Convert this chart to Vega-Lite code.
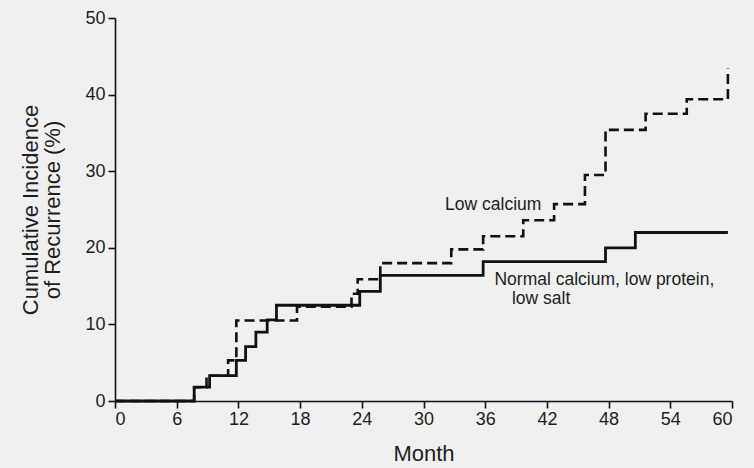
{
  "$schema": "https://vega.github.io/schema/vega-lite/v6.json",
  "width": 617,
  "height": 383,
  "autosize": {"type": "none"},
  "padding": {"left": 115, "top": 18, "right": 22, "bottom": 67},
  "background": "#f0f0f0",
  "config": {
    "view": {"stroke": null},
    "font": "Liberation Sans",
    "axis": {
      "domainColor": "#111111",
      "domainWidth": 1.6,
      "tickColor": "#111111",
      "tickWidth": 1.6,
      "tickSize": 7,
      "grid": false,
      "labelFont": "Liberation Sans",
      "labelFontSize": 18,
      "labelColor": "#1e1e1e",
      "titleFont": "Liberation Sans",
      "titleFontSize": 22,
      "titleFontWeight": "normal",
      "titleColor": "#1e1e1e"
    }
  },
  "datasets": {
    "curves": [
      {"month": 0, "pct": 0, "group": "normal"},
      {"month": 7.7, "pct": 1.8, "group": "normal"},
      {"month": 9.2, "pct": 3.3, "group": "normal"},
      {"month": 11.8, "pct": 5.3, "group": "normal"},
      {"month": 12.7, "pct": 7.1, "group": "normal"},
      {"month": 13.7, "pct": 9.0, "group": "normal"},
      {"month": 14.8, "pct": 10.6, "group": "normal"},
      {"month": 15.7, "pct": 12.5, "group": "normal"},
      {"month": 23.8, "pct": 14.3, "group": "normal"},
      {"month": 25.8, "pct": 16.4, "group": "normal"},
      {"month": 35.8, "pct": 18.2, "group": "normal"},
      {"month": 47.7, "pct": 20.0, "group": "normal"},
      {"month": 50.6, "pct": 22.0, "group": "normal"},
      {"month": 59.6, "pct": 22.0, "group": "normal"},
      {"month": 0, "pct": 0, "group": "low"},
      {"month": 7.7, "pct": 1.8, "group": "low"},
      {"month": 8.9, "pct": 3.3, "group": "low"},
      {"month": 11.0, "pct": 5.3, "group": "low"},
      {"month": 11.8, "pct": 10.5, "group": "low"},
      {"month": 17.7, "pct": 12.3, "group": "low"},
      {"month": 23.0, "pct": 14.0, "group": "low"},
      {"month": 23.6, "pct": 15.9, "group": "low"},
      {"month": 25.8, "pct": 18.0, "group": "low"},
      {"month": 32.7, "pct": 19.8, "group": "low"},
      {"month": 35.8, "pct": 21.5, "group": "low"},
      {"month": 39.7, "pct": 23.6, "group": "low"},
      {"month": 42.7, "pct": 25.7, "group": "low"},
      {"month": 45.7, "pct": 29.5, "group": "low"},
      {"month": 47.7, "pct": 35.4, "group": "low"},
      {"month": 51.6, "pct": 37.5, "group": "low"},
      {"month": 55.6, "pct": 39.4, "group": "low"},
      {"month": 59.6, "pct": 43.4, "group": "low"}
    ],
    "labels": [
      {"month": 32.1, "pct": 25.6, "text": "Low calcium"},
      {"month": 36.9, "pct": 15.8, "text": "Normal calcium, low protein,"},
      {"month": 38.6, "pct": 13.3, "text": "low salt"}
    ]
  },
  "layer": [
    {
      "data": {"name": "curves"},
      "transform": [{"filter": "datum.group === 'normal'"}],
      "mark": {"type": "line", "interpolate": "step-after", "color": "#111111", "strokeWidth": 2.8},
      "encoding": {
        "x": {
          "field": "month", "type": "quantitative",
          "scale": {"domain": [0, 60], "nice": false},
          "axis": {"values": [0, 6, 12, 18, 24, 30, 36, 42, 48, 54, 60], "title": "Month", "titlePadding": 15, "labelPadding": 2}
        },
        "y": {
          "field": "pct", "type": "quantitative",
          "scale": {"domain": [0, 50], "nice": false},
          "axis": {"values": [0, 10, 20, 30, 40, 50], "title": ["Cumulative Incidence", "of Recurrence (%)"], "titlePadding": 20, "titleLineHeight": 22, "labelPadding": 3}
        }
      }
    },
    {
      "data": {"name": "curves"},
      "transform": [{"filter": "datum.group === 'low'"}],
      "mark": {"type": "line", "interpolate": "step-after", "color": "#111111", "strokeWidth": 2.6, "strokeDash": [10, 5]},
      "encoding": {
        "x": {"field": "month", "type": "quantitative"},
        "y": {"field": "pct", "type": "quantitative"}
      }
    },
    {
      "data": {"name": "labels"},
      "mark": {"type": "text", "align": "left", "baseline": "middle", "fontSize": 17.5, "color": "#1e1e1e", "font": "Liberation Sans"},
      "encoding": {
        "x": {"field": "month", "type": "quantitative"},
        "y": {"field": "pct", "type": "quantitative"},
        "text": {"field": "text"}
      }
    }
  ]
}
